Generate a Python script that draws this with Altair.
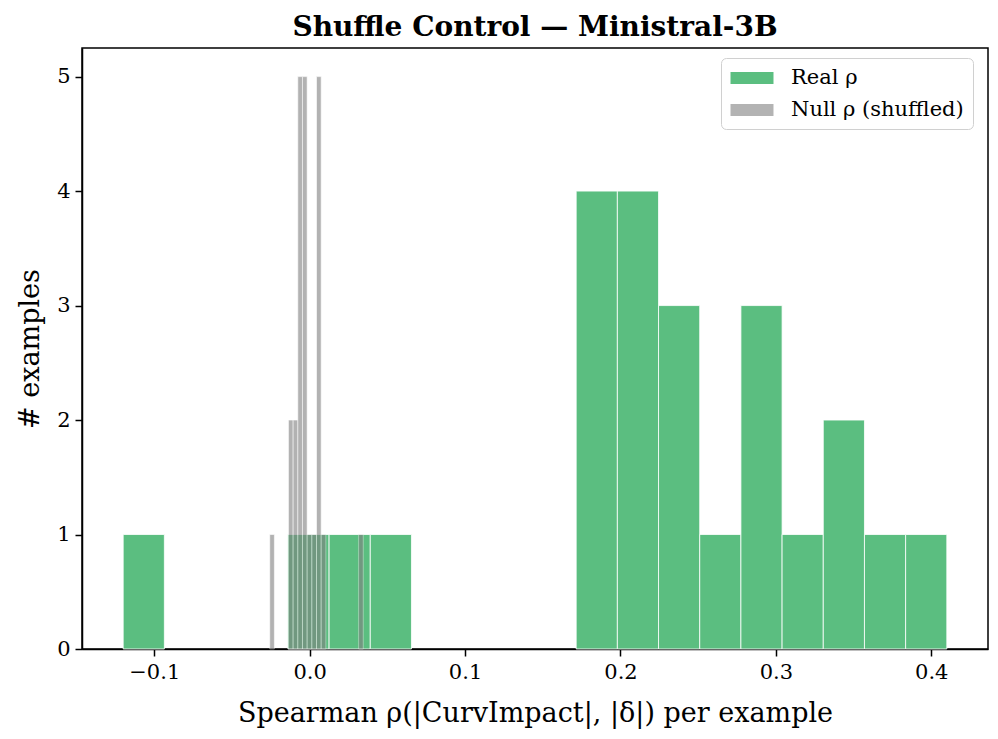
import altair as alt
import pandas as pd

# Histogram data
REAL_LABEL = "Real ρ"
NULL_LABEL = "Null ρ (shuffled)"
REAL_BIN_START = -0.12
REAL_BIN_WIDTH = 0.0265
REAL_COUNTS = [1, 0, 0, 0, 1, 1, 1, 0, 0, 0, 0, 4, 4, 3, 1, 3, 1, 2, 1, 1]
NULL_BIN_START = -0.0257
NULL_BIN_WIDTH = 0.00301
NULL_COUNTS = [1, 0, 0, 0, 2, 2, 5, 5, 1, 1, 5, 1, 0, 0, 0, 0, 0, 0, 0, 1]
X_TICKS = [-0.1, 0.0, 0.1, 0.2, 0.3, 0.4]
Y_TICKS = [0, 1, 2, 3, 4, 5]

GREEN = "#5bbe80"
GRAY = "#808080"
FONT = "DejaVu Serif"


def bins(label, start, width, counts):
    rows = []
    for i, c in enumerate(counts):
        if c > 0:
            rows.append({"series": label, "x0": start + i * width,
                         "x1": start + (i + 1) * width, "count": c, "base": 0})
    return rows


real_df = pd.DataFrame(bins(REAL_LABEL, REAL_BIN_START, REAL_BIN_WIDTH, REAL_COUNTS))
null_df = pd.DataFrame(bins(NULL_LABEL, NULL_BIN_START, NULL_BIN_WIDTH, NULL_COUNTS))

xscale = alt.Scale(domain=[-0.1465, 0.4365], nice=False, zero=False)
yscale = alt.Scale(domain=[0, 5.25], nice=False)
color = alt.Color("series:N",
                  scale=alt.Scale(domain=[REAL_LABEL, NULL_LABEL], range=[GREEN, GRAY]),
                  legend=alt.Legend(title=None, orient="none", legendX=639, legendY=10,
                                    symbolType="M-2,-0.56H2V0.56H-2Z", symbolSize=462,
                                    symbolOffset=11, symbolStrokeWidth=0,
                                    labelFont=FONT, labelFontSize=21,
                                    labelColor="black", labelLimit=0, fillColor="white",
                                    strokeColor="#d0d0d0", cornerRadius=5, padding=9,
                                    rowPadding=11, labelOffset=28))
opacity = alt.Opacity("series:N",
                      scale=alt.Scale(domain=[REAL_LABEL, NULL_LABEL], range=[1.0, 0.6]),
                      legend=None)

xaxis = alt.Axis(title="Spearman ρ(|CurvImpact|, |δ|) per example", values=X_TICKS,
                 format=".1f", grid=False)
yaxis = alt.Axis(title="# examples", values=Y_TICKS, format="d", grid=False)

real = alt.Chart(real_df).mark_rect(stroke="white", strokeWidth=0.8).encode(
    x=alt.X("x0:Q", scale=xscale, axis=xaxis),
    x2="x1:Q",
    y=alt.Y("count:Q", scale=yscale, axis=yaxis),
    y2="base:Q",
    color=color,
    opacity=opacity,
)
null = alt.Chart(null_df).mark_rect(stroke="white", strokeWidth=0.6).encode(
    x=alt.X("x0:Q", scale=xscale, axis=xaxis),
    x2="x1:Q",
    y=alt.Y("count:Q", scale=yscale, axis=yaxis),
    y2="base:Q",
    color=color,
    opacity=opacity,
)

chart = alt.layer(real, null).properties(
    width=906, height=601,
    autosize=alt.AutoSizeParams(type="none"),
    padding={"left": 74, "top": 40, "right": 2, "bottom": 88},
    title=alt.Title("Shuffle Control — Ministral-3B", font=FONT, fontSize=28,
                    fontWeight="bold", color="black", anchor="middle", offset=6),
).configure_view(stroke="black", strokeWidth=1.5).configure_axis(
    domainColor="black", domainWidth=1.5, tickColor="black", tickWidth=1.5,
    tickSize=7, labelFont=FONT, labelFontSize=21, labelColor="black",
    titleFont=FONT, titleFontSize=27, titleColor="black", titleFontWeight="normal",
    labelPadding=5,
).configure_axisX(titlePadding=18).configure_axisY(titlePadding=12)

chart.save("out.html", embed_options={"renderer": "svg", "actions": False})
